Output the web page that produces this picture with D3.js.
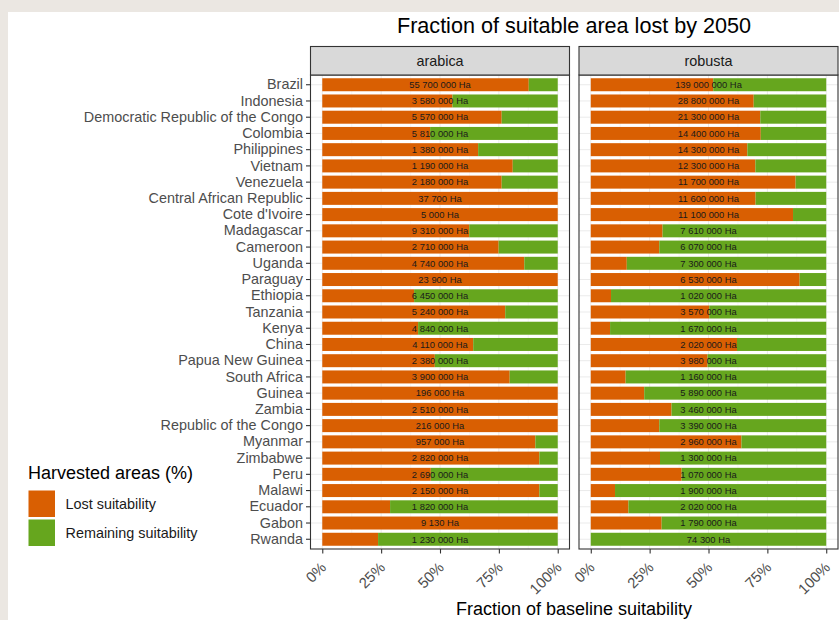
<!DOCTYPE html>
<html>
<head>
<meta charset="utf-8">
<script src="https://cdn.jsdelivr.net/npm/d3@7"></script>
<style>
  html, body { margin: 0; padding: 0; background: #ebe7e2; }
  svg { display: block; }
  text { font-family: "Liberation Sans", Arial, Helvetica, sans-serif; }
</style>
</head>
<body>
<svg id="chart" width="839" height="620"></svg>
<script>
const countries = ["Brazil","Indonesia","Democratic Republic of the Congo","Colombia","Philippines","Vietnam","Venezuela","Central African Republic","Cote d'Ivoire","Madagascar","Cameroon","Uganda","Paraguay","Ethiopia","Tanzania","Kenya","China","Papua New Guinea","South Africa","Guinea","Zambia","Republic of the Congo","Myanmar","Zimbabwe","Peru","Malawi","Ecuador","Gabon","Rwanda"];

const species = ["arabica", "robusta"];

// Fraction of baseline suitability lost by 2050
const arabicaLost = [0.877,0.553,0.762,0.458,0.662,0.809,0.762,1.0,1.0,0.624,0.749,0.858,1.0,0.390,0.777,0.407,0.641,0.478,0.796,1.0,1.0,1.0,0.905,0.922,0.461,0.922,0.288,1.0,0.237];
const robustaLost = [0.520,0.692,0.720,0.722,0.665,0.699,0.870,0.700,0.859,0.305,0.291,0.153,0.887,0.086,0.503,0.082,0.621,0.496,0.148,0.227,0.343,0.291,0.640,0.294,0.386,0.103,0.160,0.301,0.0];

// Harvested area labels
const arabicaArea = ["55 700 000 Ha","3 580 000 Ha","5 570 000 Ha","5 810 000 Ha","1 380 000 Ha","1 190 000 Ha","2 180 000 Ha","37 700 Ha","5 000 Ha","9 310 000 Ha","2 710 000 Ha","4 740 000 Ha","23 900 Ha","6 450 000 Ha","5 240 000 Ha","4 840 000 Ha","4 110 000 Ha","2 380 000 Ha","3 900 000 Ha","196 000 Ha","2 510 000 Ha","216 000 Ha","957 000 Ha","2 820 000 Ha","2 690 000 Ha","2 150 000 Ha","1 820 000 Ha","9 130 Ha","1 230 000 Ha"];
const robustaArea = ["139 000 000 Ha","28 800 000 Ha","21 300 000 Ha","14 400 000 Ha","14 300 000 Ha","12 300 000 Ha","11 700 000 Ha","11 600 000 Ha","11 100 000 Ha","7 610 000 Ha","6 070 000 Ha","7 300 000 Ha","6 530 000 Ha","1 020 000 Ha","3 570 000 Ha","1 670 000 Ha","2 020 000 Ha","3 980 000 Ha","1 160 000 Ha","5 890 000 Ha","3 460 000 Ha","3 390 000 Ha","2 960 000 Ha","1 300 000 Ha","1 070 000 Ha","1 900 000 Ha","2 020 000 Ha","1 790 000 Ha","74 300 Ha"];

const xTicks = [0, 0.25, 0.5, 0.75, 1];
const legendLabels = ["Lost suitability", "Remaining suitability"];
const colors = ["#d95f02", "#66a61e"];

const titleText = "Fraction of suitable area lost by 2050";
const xTitle = "Fraction of baseline suitability";
const legendTitle = "Harvested areas (%)";

const svg = d3.select("#chart");

// white card
svg.append("rect").attr("x", 8).attr("y", 12).attr("width", 839).attr("height", 620).attr("fill", "#ffffff");

const panelTop = 75, panelBottom = 549;
const panels = [
  { name: "arabica", left: 310.5, right: 569.5, lost: arabicaLost, area: arabicaArea },
  { name: "robusta", left: 579, right: 838, lost: robustaLost, area: robustaArea }
];

const y = d3.scaleBand().domain(countries).range([panelTop, panelBottom]).paddingInner(0.2).paddingOuter(0.2);

panels.forEach((p, pi) => {
  const w = p.right - p.left;
  const exp = w * 0.05 / 1.1;
  const x = d3.scaleLinear().domain([0, 1]).range([p.left + exp, p.right - exp]);
  const g = svg.append("g");

  // panel background
  g.append("rect").attr("x", p.left).attr("y", panelTop).attr("width", w).attr("height", panelBottom - panelTop).attr("fill", "#fff");

  // gridlines
  const minor = [0.125, 0.375, 0.625, 0.875];
  g.selectAll(".gmin").data(minor).join("line")
    .attr("x1", d => x(d)).attr("x2", d => x(d)).attr("y1", panelTop).attr("y2", panelBottom)
    .attr("stroke", "#f2f2f2").attr("stroke-width", 0.6);
  g.selectAll(".gx").data(xTicks).join("line")
    .attr("x1", d => x(d)).attr("x2", d => x(d)).attr("y1", panelTop).attr("y2", panelBottom)
    .attr("stroke", "#ebebeb").attr("stroke-width", 1);
  g.selectAll(".gy").data(countries).join("line")
    .attr("x1", p.left).attr("x2", p.right)
    .attr("y1", d => y(d) + y.bandwidth() / 2).attr("y2", d => y(d) + y.bandwidth() / 2)
    .attr("stroke", "#ebebeb").attr("stroke-width", 1);

  // bars
  g.selectAll(".lost").data(countries).join("rect")
    .attr("x", x(0)).attr("y", d => y(d))
    .attr("width", (d, i) => x(p.lost[i]) - x(0))
    .attr("height", y.bandwidth())
    .attr("fill", colors[0]);
  g.selectAll(".remain").data(countries).join("rect")
    .attr("x", (d, i) => x(p.lost[i])).attr("y", d => y(d))
    .attr("width", (d, i) => x(1) - x(p.lost[i]))
    .attr("height", y.bandwidth())
    .attr("fill", colors[1]);

  // labels
  g.selectAll(".lab").data(countries).join("text")
    .attr("x", x(0.5)).attr("y", d => y(d) + y.bandwidth() / 2)
    .attr("dy", "0.35em")
    .attr("text-anchor", "middle")
    .attr("font-size", "9.4px")
    .attr("fill", "#1a1a1a")
    .text((d, i) => p.area[i]);

  // border
  g.append("rect").attr("x", p.left).attr("y", panelTop).attr("width", w).attr("height", panelBottom - panelTop)
    .attr("fill", "none").attr("stroke", "#333333").attr("stroke-width", 1.1);

  // strip
  g.append("rect").attr("x", p.left).attr("y", 46.5).attr("width", w).attr("height", panelTop - 46.5)
    .attr("fill", "#d9d9d9").attr("stroke", "#333333").attr("stroke-width", 1.1);
  g.append("text").attr("x", (p.left + p.right) / 2).attr("y", 65.5)
    .attr("text-anchor", "middle").attr("font-size", "14.4px").attr("fill", "#1a1a1a").text(p.name);

  // x axis
  const xa = g.append("g").attr("transform", `translate(0,${panelBottom})`)
    .call(d3.axisBottom(x).tickValues(xTicks).tickFormat(d3.format(".0%")).tickSize(4.5).tickPadding(0));
  xa.select(".domain").remove();
  xa.selectAll(".tick line").attr("stroke", "#333333").attr("stroke-width", 1.1);
  xa.selectAll(".tick text")
    .attr("font-size", "14.8px").attr("fill", "#4d4d4d")
    .attr("text-anchor", "end").attr("dy", null).attr("y", null)
    .attr("transform", "translate(-3,12) rotate(-45)")
    .attr("dominant-baseline", "hanging");

  if (pi === 0) {
    const ya = g.append("g").attr("transform", `translate(${p.left},0)`)
      .call(d3.axisLeft(y).tickSize(4.5).tickPadding(3));
    ya.select(".domain").remove();
    ya.selectAll(".tick line").attr("stroke", "#333333").attr("stroke-width", 1.1);
    ya.selectAll(".tick text").attr("font-size", "14.4px").attr("fill", "#4d4d4d");
  }
});

// title
svg.append("text").attr("x", 574).attr("y", 33).attr("text-anchor", "middle")
  .attr("font-size", "21.6px").attr("fill", "#000").text(titleText);

// x title
svg.append("text").attr("x", 574).attr("y", 615).attr("text-anchor", "middle")
  .attr("font-size", "18px").attr("fill", "#000").text(xTitle);

// legend
const lg = svg.append("g");
lg.append("text").attr("x", 28).attr("y", 479).attr("font-size", "18px").attr("fill", "#000").text(legendTitle);
legendLabels.forEach((l, i) => {
  const ky = 490.5 + i * 29;
  lg.append("rect").attr("x", 28.5).attr("y", ky).attr("width", 26.5).attr("height", 26.5).attr("fill", colors[i]);
  lg.append("text").attr("x", 65.5).attr("y", ky + 13.25).attr("dy", "0.35em")
    .attr("font-size", "14.4px").attr("fill", "#1a1a1a").text(l);
});
</script>
</body>
</html>
